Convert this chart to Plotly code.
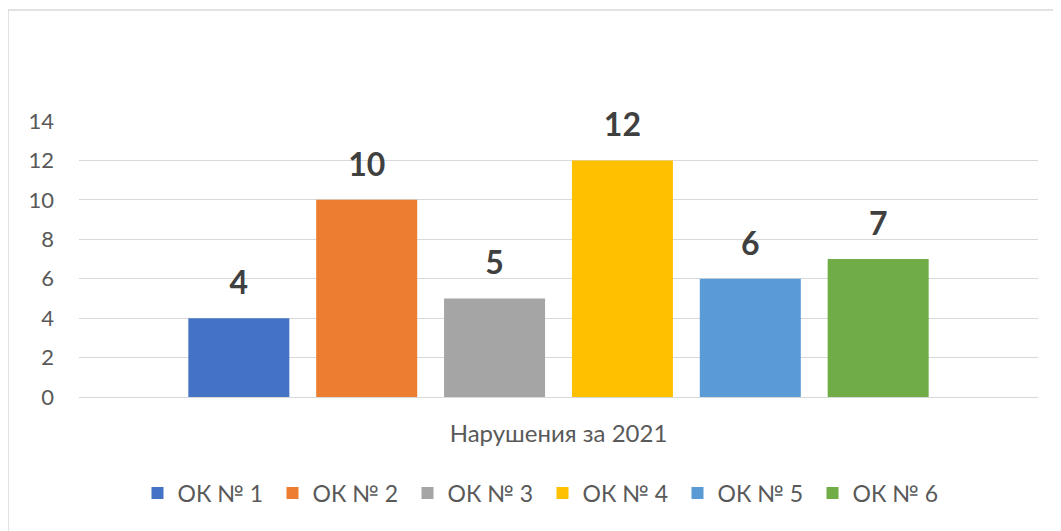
import plotly.graph_objects as go

category = ["Нарушения за 2021"]
series_names = ["ОК № 1", "ОК № 2", "ОК № 3", "ОК № 4", "ОК № 5", "ОК № 6"]
series_values = [4, 10, 5, 12, 6, 7]
colors = ["#4472C4", "#ED7D31", "#A5A5A5", "#FFC000", "#5B9BD5", "#70AD47"]
y_ticks = [0, 2, 4, 6, 8, 10, 12, 14]

FONT = "Lato"
# page body has an 8px margin; the figure sits at (8, 8)
W, H = 1053, 523
L, R, T, B = 71, 23, 113, 134

fig = go.Figure()
for name, val, col in zip(series_names, series_values, colors):
    fig.add_trace(go.Bar(
        x=category, y=[val], name=name,
        marker=dict(color=col, line=dict(width=0)),
        text=[f"<span style='font-size:32px'>{val}</span><br> "],
        textposition="outside", cliponaxis=False,
        textfont=dict(family=FONT, size=14, color="#404040", weight="bold"),
    ))

pw = W - L - R
ph = H - T - B
fig.add_shape(type="rect", xref="paper", yref="paper",
              x0=(0 - L) / pw, x1=(W + 20 - L) / pw,
              y0=-(B + 20) / ph, y1=1 + (T - 2) / ph,
              line=dict(color="#D9D9D9", width=1.5), layer="below")

fig.update_layout(
    width=W, height=H,
    margin=dict(l=L, r=R, t=T, b=B),
    paper_bgcolor="white", plot_bgcolor="white",
    barmode="group", bargap=0.2, bargroupgap=0.21,
    font=dict(family=FONT, color="#595959"),
    showlegend=True,
    legend=dict(orientation="h", x=0.5 - 16 / pw, xanchor="center", y=-96 / ph, yanchor="middle",
                font=dict(family=FONT, size=23, color="#595959"),
                itemwidth=30, traceorder="normal", tracegroupgap=0,
                entrywidth=90, entrywidthmode="pixels"),
    xaxis=dict(showgrid=False, showline=False, ticks="", ticklabelstandoff=20,
               tickfont=dict(family=FONT, size=24, color="#595959")),
    yaxis=dict(range=[0, 14], tickvals=y_ticks, showgrid=True, gridcolor="#D9D9D9", gridwidth=1,
               zeroline=True, zerolinecolor="#D9D9D9", zerolinewidth=1, showline=False, ticks="",
               ticklabelstandoff=24,
               tickfont=dict(family=FONT, size=22, color="#595959")),
)

fig.write_html("out.html")
